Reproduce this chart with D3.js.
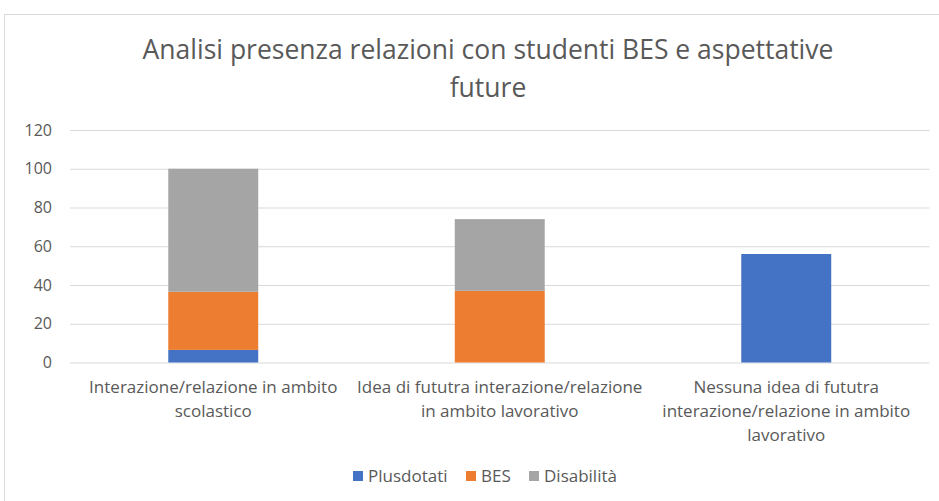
<!DOCTYPE html>
<html>
<head>
<meta charset="utf-8">
<script src="https://cdn.jsdelivr.net/npm/d3@7"></script>
<style>
  body { margin: 0; background: #fff; }
  svg text { font-family: "Open Sans", sans-serif; fill: #595959; }
</style>
</head>
<body>
<div id="chart"></div>
<script>
const categories = [
    ["Interazione/relazione in ambito", "scolastico"],
    ["Idea di fututra interazione/relazione", "in ambito lavorativo"],
    ["Nessuna idea di fututra", "interazione/relazione in ambito", "lavorativo"]
];
const seriesNames = ["Plusdotati", "BES", "Disabilità"];
const seriesColors = ["#4472C4", "#ED7D31", "#A5A5A5"];
const plusdotati = [6.5, 0, 56];
const bes = [30, 37, 0];
const disabilita = [63.5, 37, 0];
const yTicks = [0, 20, 40, 60, 80, 100, 120];

const width = 939;
const height = 501;
const margin = {top: 130, right: 10, bottom: 138, left: 70};

const svg = d3.select("#chart")
    .append("svg")
    .attr("width", width)
    .attr("height", height);

// cornice del grafico
svg.append("rect")
    .attr("x", 4.5)
    .attr("y", 14.5)
    .attr("width", width + 10)
    .attr("height", height)
    .attr("fill", "none")
    .attr("stroke", "#d9d9d9");

svg.append("text")
    .attr("x", 488)
    .attr("y", 59)
    .attr("text-anchor", "middle")
    .style("font-size", "26.5px")
    .text("Analisi presenza relazioni con studenti BES e aspettative");
svg.append("text")
    .attr("x", 488)
    .attr("y", 97)
    .attr("text-anchor", "middle")
    .style("font-size", "26.5px")
    .text("future");

const x = d3.scaleBand()
    .domain(d3.range(categories.length))
    .range([margin.left, 929.5])
    .paddingInner(0.686)
    .paddingOuter(0.343);

const y = d3.scaleLinear()
    .domain([0, 120])
    .range([362.5, 130]);

const yAxis = d3.axisLeft(y)
    .tickValues(yTicks)
    .tickSize(-(929.5 - margin.left))
    .tickPadding(18);

const gy = svg.append("g")
    .attr("transform", `translate(${margin.left},0)`)
    .call(yAxis);
gy.select(".domain").remove();
gy.selectAll("line").attr("stroke", "#d9d9d9");
gy.selectAll("text").style("font-size", "16px").attr("fill", "#595959");

const rows = categories.map((c, i) => ({
    i: i,
    Plusdotati: plusdotati[i],
    BES: bes[i],
    "Disabilità": disabilita[i]
}));

const stack = d3.stack().keys(seriesNames)(rows);

svg.append("g")
    .selectAll("g")
    .data(stack)
    .join("g")
    .attr("fill", (d, i) => seriesColors[i])
    .selectAll("rect")
    .data(d => d.filter(s => s[1] - s[0] > 0))
    .join("rect")
    .attr("x", d => x(d.data.i))
    .attr("width", x.bandwidth())
    .attr("y", d => y(d[1]))
    .attr("height", d => y(d[0]) - y(d[1]));

// etichette categorie
const labels = svg.append("g");
categories.forEach((lines, i) => {
    const t = labels.append("text")
        .attr("text-anchor", "middle")
        .attr("x", x(i) + x.bandwidth() / 2)
        .attr("y", 393)
        .style("font-size", "17px");
    lines.forEach((l, k) => {
        t.append("tspan")
            .attr("x", x(i) + x.bandwidth() / 2)
            .attr("dy", k === 0 ? 0 : 24)
            .text(l);
    });
});

// legenda
const legendX = [353, 466, 529];
const legend = svg.append("g");
seriesNames.forEach((name, i) => {
    legend.append("rect")
        .attr("x", legendX[i])
        .attr("y", 471)
        .attr("width", 10)
        .attr("height", 10)
        .attr("fill", seriesColors[i]);
    legend.append("text")
        .attr("x", legendX[i] + 15)
        .attr("y", 482)
        .style("font-size", "17px")
        .text(name);
});
</script>
</body>
</html>
